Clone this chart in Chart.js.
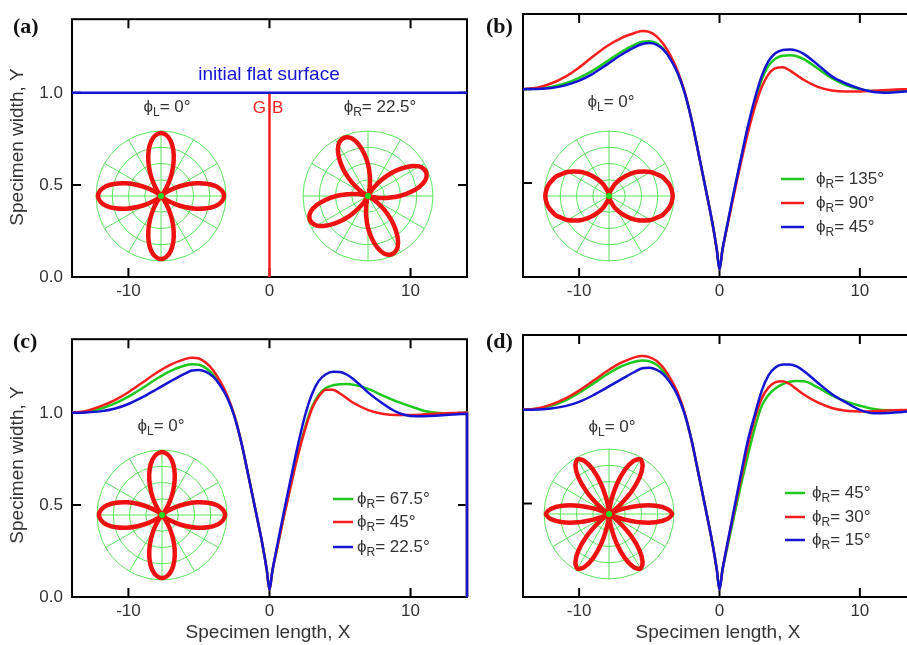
<!DOCTYPE html>
<html>
<head>
<meta charset="utf-8">
<script src="https://cdn.jsdelivr.net/npm/chart.js@4/dist/chart.umd.min.js"></script>
<style>
  html, body { margin: 0; padding: 0; background: #fff; overflow: hidden; }
  #fig { position: relative; width: 907px; height: 645px; overflow: hidden; background: #fff; }
  #fig canvas { position: absolute; }
</style>
</head>
<body>
<div id="fig"></div>
<script>
// ---------------------------------------------------------------------------
// Sample positions along the specimen length
const xs = [-14, -13, -12, -11, -10, -9, -8, -7,
            -6, -5.5, -5, -4.5, -4, -3.5, -3, -2.5, -2, -1.5, -1, -0.5,
            -0.2, 0, 0.2,
            0.5, 1, 1.5, 2, 2.5, 3, 3.5, 4, 4.5, 5, 5.5, 6,
            7, 8, 9, 10, 11, 12, 13, 14];

// Axis ticks
const xTickValues = [-10, 0, 10];
const yTickValues = [0, 0.5, 1.0];

// (a) initial flat surface and the grain boundary
const flatX = [-14, 14];
const flatY = [1, 1];
const gbX = [0, 0];
const gbY = [0, 1];

// (b) profiles, phi_L = 0
const bPhi135 = [1.000, 1.003, 1.012, 1.030, 1.060, 1.100, 1.148, 1.198,
  1.238, 1.253, 1.255, 1.245, 1.215, 1.165, 1.090, 0.986, 0.840, 0.660, 0.475, 0.285,
  0.150, 0.040, 0.140,
  0.255, 0.440, 0.615, 0.785, 0.930, 1.050, 1.125, 1.163, 1.178, 1.180, 1.175, 1.160,
  1.110, 1.058, 1.022, 1.000, 0.990, 0.990, 0.995, 0.998];
const bPhi90 = [1.000, 1.008, 1.030, 1.065, 1.115, 1.175, 1.230, 1.272,
  1.300, 1.310, 1.305, 1.282, 1.240, 1.180, 1.100, 0.990, 0.840, 0.660, 0.475, 0.285,
  0.150, 0.040, 0.140,
  0.250, 0.430, 0.600, 0.760, 0.900, 1.010, 1.080, 1.112, 1.116, 1.100, 1.075, 1.050,
  1.012, 0.993, 0.987, 0.988, 0.992, 0.996, 0.999, 1.000];
const bPhi45 = [1.000, 1.001, 1.006, 1.020, 1.045, 1.083, 1.132, 1.183,
  1.225, 1.240, 1.245, 1.237, 1.210, 1.160, 1.088, 0.985, 0.840, 0.660, 0.475, 0.285,
  0.150, 0.040, 0.140,
  0.258, 0.445, 0.622, 0.795, 0.945, 1.068, 1.150, 1.192, 1.208, 1.211, 1.205, 1.188,
  1.130, 1.068, 1.030, 1.003, 0.985, 0.981, 0.986, 0.993];

// (c) profiles; the last sample is the drop at the right end of the specimen
const cX = [...xs, 14];
const cPhi675 = [1.000, 1.006, 1.022, 1.050, 1.088, 1.135, 1.185, 1.228,
  1.257, 1.264, 1.261, 1.243, 1.208, 1.157, 1.088, 0.986, 0.840, 0.660, 0.475, 0.285,
  0.150, 0.040, 0.140,
  0.250, 0.432, 0.605, 0.770, 0.915, 1.030, 1.100, 1.135, 1.150, 1.156, 1.157, 1.152,
  1.130, 1.095, 1.062, 1.035, 1.010, 0.999, 0.998, 1.000, 0];
const cPhi45 = [1.000, 1.010, 1.035, 1.068, 1.112, 1.165, 1.218, 1.262,
  1.292, 1.299, 1.295, 1.272, 1.232, 1.172, 1.095, 0.988, 0.840, 0.660, 0.475, 0.285,
  0.150, 0.040, 0.140,
  0.250, 0.430, 0.600, 0.765, 0.905, 1.020, 1.090, 1.126, 1.125, 1.105, 1.078, 1.052,
  1.015, 0.995, 0.988, 0.988, 0.992, 0.996, 0.999, 1.000, 0];
const cPhi225 = [1.000, 1.002, 1.008, 1.022, 1.048, 1.085, 1.128, 1.172,
  1.213, 1.230, 1.233, 1.223, 1.197, 1.150, 1.083, 0.984, 0.840, 0.660, 0.475, 0.285,
  0.150, 0.040, 0.140,
  0.262, 0.455, 0.640, 0.820, 0.980, 1.100, 1.175, 1.210, 1.223, 1.222, 1.207, 1.180,
  1.110, 1.052, 1.005, 0.983, 0.982, 0.986, 0.991, 0.995, 0];

// (d) profiles
const dPhi45 = [1.000, 1.006, 1.022, 1.050, 1.092, 1.140, 1.190, 1.232,
  1.258, 1.264, 1.260, 1.242, 1.207, 1.155, 1.087, 0.985, 0.840, 0.660, 0.475, 0.285,
  0.150, 0.040, 0.140,
  0.245, 0.420, 0.590, 0.750, 0.900, 1.020, 1.080, 1.115, 1.137, 1.150, 1.154, 1.153,
  1.120, 1.078, 1.045, 1.022, 1.005, 0.998, 0.998, 1.000];
const dPhi30 = [1.000, 1.008, 1.028, 1.060, 1.103, 1.155, 1.208, 1.252,
  1.282, 1.288, 1.282, 1.262, 1.225, 1.168, 1.095, 0.988, 0.840, 0.660, 0.475, 0.285,
  0.150, 0.040, 0.140,
  0.258, 0.445, 0.625, 0.800, 0.950, 1.060, 1.120, 1.148, 1.153, 1.138, 1.110, 1.082,
  1.040, 1.010, 0.995, 0.991, 0.993, 0.997, 0.999, 1.000];
const dPhi15 = [1.000, 1.002, 1.007, 1.020, 1.043, 1.078, 1.120, 1.163,
  1.205, 1.222, 1.225, 1.215, 1.190, 1.145, 1.080, 0.982, 0.840, 0.660, 0.475, 0.285,
  0.150, 0.040, 0.140,
  0.262, 0.455, 0.645, 0.830, 0.970, 1.100, 1.185, 1.228, 1.242, 1.243, 1.232, 1.208,
  1.145, 1.085, 1.040, 1.000, 0.982, 0.983, 0.989, 0.995];

// Polar insets: radius every 5 degrees, clockwise from the +X direction
const roseAngles = Array.from({ length: 72 }, (_, i) => i * 5 + '°');
const roseFour = [
  0.97, 0.94, 0.86, 0.73, 0.57, 0.40, 0.24, 0.11, 0.03, 0, 0.03, 0.11, 0.24, 0.40, 0.57, 0.73, 0.86, 0.94,
  0.97, 0.94, 0.86, 0.73, 0.57, 0.40, 0.24, 0.11, 0.03, 0, 0.03, 0.11, 0.24, 0.40, 0.57, 0.73, 0.86, 0.94,
  0.97, 0.94, 0.86, 0.73, 0.57, 0.40, 0.24, 0.11, 0.03, 0, 0.03, 0.11, 0.24, 0.40, 0.57, 0.73, 0.86, 0.94,
  0.97, 0.94, 0.86, 0.73, 0.57, 0.40, 0.24, 0.11, 0.03, 0, 0.03, 0.11, 0.24, 0.40, 0.57, 0.73, 0.86, 0.94];
const roseFourTilted = [
  0.49, 0.32, 0.17, 0.06, 0.01, 0.01, 0.06, 0.17, 0.32, 0.49, 0.65, 0.80, 0.91, 0.96, 0.96, 0.91, 0.80, 0.65,
  0.49, 0.32, 0.17, 0.06, 0.01, 0.01, 0.06, 0.17, 0.32, 0.49, 0.65, 0.80, 0.91, 0.96, 0.96, 0.91, 0.80, 0.65,
  0.49, 0.32, 0.17, 0.06, 0.01, 0.01, 0.06, 0.17, 0.32, 0.49, 0.65, 0.80, 0.91, 0.96, 0.96, 0.91, 0.80, 0.65,
  0.49, 0.32, 0.17, 0.06, 0.01, 0.01, 0.06, 0.17, 0.32, 0.49, 0.65, 0.80, 0.91, 0.96, 0.96, 0.91, 0.80, 0.65];
const roseTwo = [
  0.98, 0.97, 0.95, 0.91, 0.87, 0.80, 0.74, 0.66, 0.58, 0.49, 0.40, 0.32, 0.25, 0.18, 0.11, 0.07, 0.03, 0.01,
  0, 0.01, 0.03, 0.07, 0.11, 0.18, 0.25, 0.32, 0.40, 0.49, 0.58, 0.66, 0.74, 0.80, 0.87, 0.91, 0.95, 0.97,
  0.98, 0.97, 0.95, 0.91, 0.87, 0.80, 0.74, 0.66, 0.58, 0.49, 0.40, 0.32, 0.25, 0.18, 0.11, 0.07, 0.03, 0.01,
  0, 0.01, 0.03, 0.07, 0.11, 0.18, 0.25, 0.32, 0.40, 0.49, 0.58, 0.66, 0.74, 0.80, 0.87, 0.91, 0.95, 0.97];
const roseSix = [
  0.97, 0.90, 0.73, 0.49, 0.24, 0.07, 0, 0.07, 0.24, 0.49, 0.73, 0.90,
  0.97, 0.90, 0.73, 0.49, 0.24, 0.07, 0, 0.07, 0.24, 0.49, 0.73, 0.90,
  0.97, 0.90, 0.73, 0.49, 0.24, 0.07, 0, 0.07, 0.24, 0.49, 0.73, 0.90,
  0.97, 0.90, 0.73, 0.49, 0.24, 0.07, 0, 0.07, 0.24, 0.49, 0.73, 0.90,
  0.97, 0.90, 0.73, 0.49, 0.24, 0.07, 0, 0.07, 0.24, 0.49, 0.73, 0.90,
  0.97, 0.90, 0.73, 0.49, 0.24, 0.07, 0, 0.07, 0.24, 0.49, 0.73, 0.90];

// ---------------------------------------------------------------------------
const FONT = "'Liberation Sans', Arial, sans-serif";
const SERIF = "'Liberation Serif', 'Times New Roman', serif";
const INK = '#333333';
const GREEN = '#1ec81e';
const RED = '#f81e1e';
const BLUE = '#1414d2';
const GRID_GREEN = '#5ae65a';
const DOT_GREEN = '#22dd22';
const ROSE_RED = '#ee1111';

function addCanvas(left, top, w, h) {
  const c = document.createElement('canvas');
  c.width = w; c.height = h;
  c.style.left = left + 'px'; c.style.top = top + 'px';
  c.style.width = w + 'px'; c.style.height = h + 'px';
  document.getElementById('fig').appendChild(c);
  return c;
}

// Text where "_" turns the following character into a subscript
function drawRich(ctx, text, x, y, size, align, color) {
  const parts = [];
  for (let i = 0; i < text.length; i++) {
    if (text[i] === '_' && i + 1 < text.length) {
      parts.push({ t: text[i + 1], sub: true });
      i++;
    } else {
      const last = parts[parts.length - 1];
      if (last && !last.sub) last.t += text[i];
      else parts.push({ t: text[i], sub: false });
    }
  }
  const subSize = Math.round(size * 0.72);
  let total = 0;
  parts.forEach(p => {
    ctx.font = `${p.sub ? subSize : size}px ${FONT}`;
    p.w = ctx.measureText(p.t).width;
    total += p.w;
  });
  let cx = align === 'center' ? x - total / 2 : align === 'right' ? x - total : x;
  ctx.save();
  ctx.fillStyle = color;
  ctx.textBaseline = 'middle';
  ctx.textAlign = 'left';
  parts.forEach(p => {
    ctx.font = `${p.sub ? subSize : size}px ${FONT}`;
    ctx.fillText(p.t, cx, y + (p.sub ? size * 0.32 : 0));
    cx += p.w;
  });
  ctx.restore();
}

function drawText(ctx, item) {
  ctx.save();
  if (item.rich) {
    drawRich(ctx, item.t, item.x, item.y, item.size, item.align || 'center', item.color || INK);
  } else {
    ctx.font = `${item.weight || 'normal'} ${item.size}px ${item.family || FONT}`;
    ctx.fillStyle = item.color || INK;
    ctx.textAlign = item.align || 'center';
    ctx.textBaseline = 'middle';
    ctx.translate(item.x, item.y);
    if (item.rotate) ctx.rotate(item.rotate);
    ctx.fillText(item.t, 0, 0);
  }
  ctx.restore();
}

function makePanel(spec) {
  const cv = addCanvas(spec.left, spec.top, spec.w, spec.h);
  const area = spec.area;
  const datasets = spec.series.map(s => ({
    label: s.label || '',
    data: s.x.map((x, i) => ({ x: x, y: s.y[i] })),
    borderColor: s.color,
    backgroundColor: s.color,
    borderWidth: s.width || 2.5,
    pointRadius: 0,
    fill: false,
    tension: 0,
    cubicInterpolationMode: s.smooth ? 'monotone' : 'default',
    clip: false
  }));

  const deco = {
    id: 'deco',
    beforeDatasetsDraw(chart) {
      const ctx = chart.ctx;
      const { left, right, top, bottom } = chart.chartArea;
      const sx = chart.scales.x, sy = chart.scales.y;
      ctx.save();
      ctx.strokeStyle = '#000';
      ctx.lineWidth = 2;
      ctx.strokeRect(left, top, right - left, bottom - top);
      ctx.beginPath();
      xTickValues.forEach(v => {
        const px = sx.getPixelForValue(v);
        ctx.moveTo(px, bottom); ctx.lineTo(px, bottom - 9);
        ctx.moveTo(px, top); ctx.lineTo(px, top + 9);
      });
      yTickValues.filter(v => v > 0).forEach(v => {
        const py = sy.getPixelForValue(v);
        ctx.moveTo(left, py); ctx.lineTo(left + 9, py);
        ctx.moveTo(right, py); ctx.lineTo(right - 9, py);
      });
      ctx.stroke();
      ctx.restore();
    },
    afterDatasetsDraw(chart) {
      const ctx = chart.ctx;
      (spec.texts || []).forEach(item => drawText(ctx, item));
      if (spec.legend) {
        const L = spec.legend;
        const entries = chart.data.datasets.filter(d => d.label).slice().reverse();
        entries.forEach((d, i) => {
          const y = L.ys[i];
          ctx.save();
          ctx.strokeStyle = d.borderColor;
          ctx.lineWidth = 2.5;
          ctx.beginPath();
          ctx.moveTo(L.x0, y); ctx.lineTo(L.x1, y);
          ctx.stroke();
          ctx.restore();
          drawRich(ctx, d.label, L.tx, y, 17, 'left', INK);
        });
      }
    }
  };

  new Chart(cv, {
    type: 'line',
    data: { datasets },
    options: {
      responsive: false,
      animation: false,
      devicePixelRatio: 1,
      layout: { padding: { left: 0, top: area.t, right: spec.w - area.r, bottom: 0 } },
      plugins: { legend: { display: false }, tooltip: { enabled: false } },
      scales: {
        x: {
          type: 'linear', min: -14, max: 14,
          afterBuildTicks: s => { s.ticks = xTickValues.map(v => ({ value: v })); },
          afterFit: s => { s.height = spec.h - area.b; },
          grid: { display: false, drawTicks: false },
          border: { display: false },
          ticks: { font: { family: FONT, size: 17 }, color: INK, padding: 4, maxRotation: 0,
                   callback: v => String(v) }
        },
        y: {
          type: 'linear', min: 0, max: 1.4,
          afterBuildTicks: s => { s.ticks = yTickValues.map(v => ({ value: v })); },
          afterFit: s => { s.width = area.l; },
          grid: { display: false, drawTicks: false },
          border: { display: false },
          ticks: { display: spec.yLabels, font: { family: FONT, size: 17 }, color: INK, padding: 9,
                   callback: v => Number(v).toFixed(1) }
        }
      }
    },
    plugins: [deco]
  });
}

function makeRose(cx, cy, values) {
  const size = 140, pad = 5;
  const cv = addCanvas(cx - size / 2, cy - size / 2, size, size);
  new Chart(cv, {
    type: 'radar',
    data: {
      labels: roseAngles,
      datasets: [
        { data: [0], showLine: false, pointRadius: 3, pointBackgroundColor: DOT_GREEN,
          pointBorderWidth: 0, borderWidth: 0 },
        { data: values, borderColor: ROSE_RED, borderWidth: 4.5, pointRadius: 0,
          fill: false, tension: 0.3, clip: false }
      ]
    },
    options: {
      responsive: false,
      animation: false,
      devicePixelRatio: 1,
      layout: { padding: pad },
      plugins: { legend: { display: false }, tooltip: { enabled: false } },
      scales: {
        r: {
          min: 0, max: 1, startAngle: 90,
          ticks: { display: false, stepSize: 0.25 },
          pointLabels: { display: false },
          grid: { circular: true, color: GRID_GREEN, lineWidth: 1 },
          angleLines: { color: c => (c.index % 6 === 0 ? GRID_GREEN : 'rgba(0,0,0,0)'), lineWidth: 1 }
        }
      }
    }
  });
}

const yTitle = { t: 'Specimen width, Y', size: 19, rotate: -Math.PI / 2 };
const xTitle = { t: 'Specimen length, X', size: 19 };
const tag = { size: 22, weight: 'bold', family: SERIF, color: '#111', align: 'left' };

// (a)
makePanel({
  left: 0, top: 0, w: 480, h: 320, area: { l: 72, t: 14, r: 467, b: 277 }, yLabels: true,
  series: [
    { x: flatX, y: flatY, color: BLUE },
    { x: gbX, y: gbY, color: RED }
  ],
  texts: [
    Object.assign({ t: '(a)', x: 13, y: 27 }, tag),
    { t: 'initial flat surface', x: 269, y: 75, size: 19, color: BLUE },
    { t: 'ϕ_L= 0°', x: 167, y: 107, size: 17, rich: true },
    { t: 'ϕ_R= 22.5°', x: 380, y: 107, size: 17, rich: true },
    { t: 'G', x: 266, y: 108, size: 17, color: RED, align: 'right' },
    { t: 'B', x: 272, y: 108, size: 17, color: RED, align: 'left' },
    Object.assign({ x: 18, y: 147 }, yTitle)
  ]
});

// (b)
makePanel({
  left: 450, top: 0, w: 480, h: 320, area: { l: 73, t: 14, r: 466, b: 277 }, yLabels: false,
  series: [
    { x: xs, y: bPhi45, color: BLUE, smooth: true, label: 'ϕ_R= 45°' },
    { x: xs, y: bPhi90, color: RED, smooth: true, label: 'ϕ_R= 90°' },
    { x: xs, y: bPhi135, color: GREEN, smooth: true, label: 'ϕ_R= 135°' }
  ],
  legend: { x0: 331, x1: 354, tx: 366, ys: [179, 203, 227] },
  texts: [
    Object.assign({ t: '(b)', x: 36, y: 27 }, tag),
    { t: 'ϕ_L= 0°', x: 161, y: 102, size: 17, rich: true }
  ]
});

// (c)
makePanel({
  left: 0, top: 320, w: 480, h: 325, area: { l: 72, t: 15, r: 467, b: 277 }, yLabels: true,
  series: [
    { x: cX, y: cPhi225, color: BLUE, smooth: true, label: 'ϕ_R= 22.5°' },
    { x: cX, y: cPhi45, color: RED, smooth: true, label: 'ϕ_R= 45°' },
    { x: cX, y: cPhi675, color: GREEN, smooth: true, label: 'ϕ_R= 67.5°' }
  ],
  legend: { x0: 333, x1: 353, tx: 357, ys: [179, 202, 227] },
  texts: [
    Object.assign({ t: '(c)', x: 13, y: 22 }, tag),
    { t: 'ϕ_L= 0°', x: 161, y: 106, size: 17, rich: true },
    Object.assign({ x: 268, y: 313 }, xTitle),
    Object.assign({ x: 18, y: 145 }, yTitle)
  ]
});

// (d)
makePanel({
  left: 450, top: 320, w: 480, h: 325, area: { l: 73, t: 15, r: 466, b: 277 }, yLabels: false,
  series: [
    { x: xs, y: dPhi15, color: BLUE, smooth: true, label: 'ϕ_R= 15°' },
    { x: xs, y: dPhi30, color: RED, smooth: true, label: 'ϕ_R= 30°' },
    { x: xs, y: dPhi45, color: GREEN, smooth: true, label: 'ϕ_R= 45°' }
  ],
  legend: { x0: 335, x1: 355, tx: 362, ys: [173, 197, 220] },
  texts: [
    Object.assign({ t: '(d)', x: 36, y: 22 }, tag),
    { t: 'ϕ_L= 0°', x: 162, y: 107, size: 17, rich: true },
    Object.assign({ x: 268, y: 313 }, xTitle)
  ]
});

// Polar insets of the surface energy anisotropy
makeRose(161, 196, roseFour);
makeRose(368, 196, roseFourTilted);
makeRose(609, 196, roseTwo);
makeRose(162, 515, roseFour);
makeRose(609, 514, roseSix);
</script>
</body>
</html>
